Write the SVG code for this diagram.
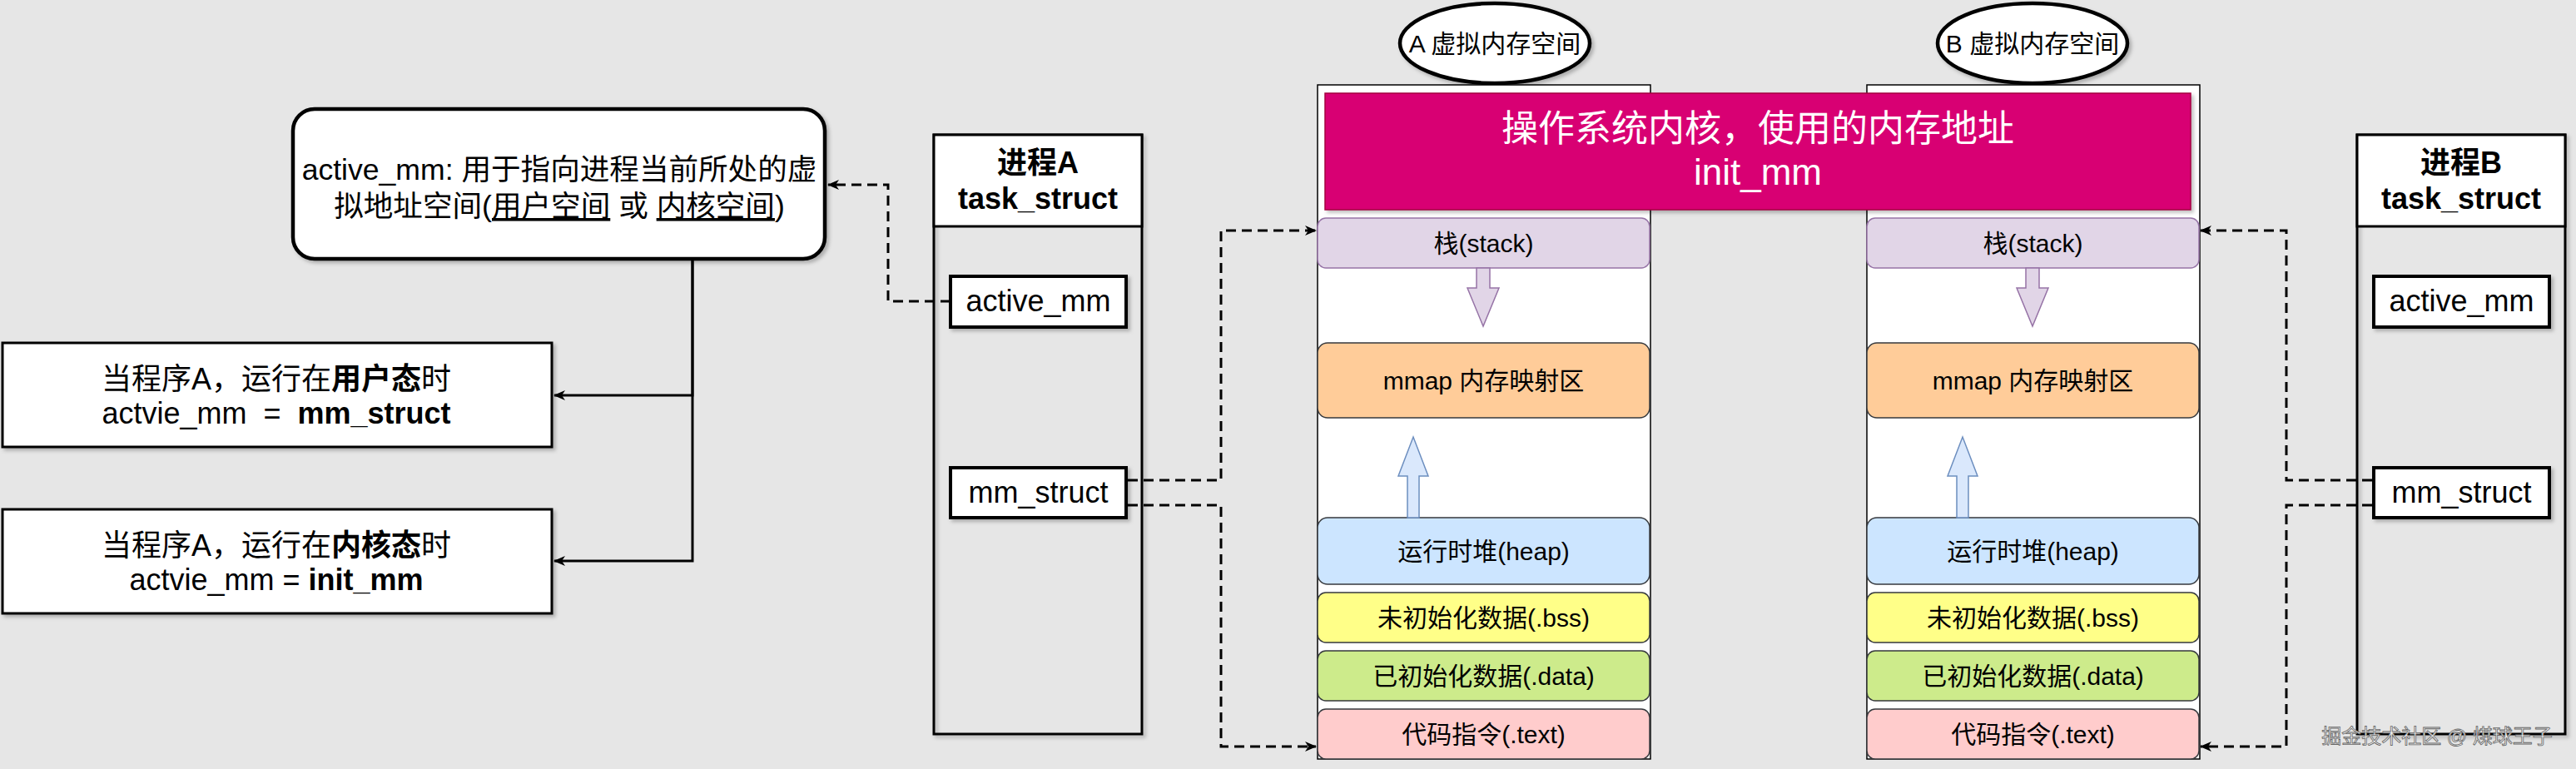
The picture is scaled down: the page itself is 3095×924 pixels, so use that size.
<svg xmlns="http://www.w3.org/2000/svg" width="3095" height="924" viewBox="0 0 3095 924">
<style>
text { font-family: "Liberation Sans", "Noto Sans CJK SC", sans-serif; fill: #000; }
.box { fill: #fff; stroke: #000; stroke-width: 3; }
.inner { fill: #fff; stroke: #000; stroke-width: 4; }
.t36 { font-size: 36px; text-anchor: middle; }
.t34 { font-size: 35.6px; text-anchor: middle; }
.t30 { font-size: 30px; text-anchor: middle; }
.b { font-weight: bold; }
.u { text-decoration: underline; }
.seg { stroke: #36393d; stroke-width: 1.5; }
.dash { fill: none; stroke: #000; stroke-width: 3; stroke-dasharray: 12 7; }
.solid { fill: none; stroke: #000; stroke-width: 3; }
.col { fill: #fff; stroke: #000; stroke-width: 1.5; }
.ell { fill: #fff; stroke: #000; stroke-width: 4.5; }
</style>
<defs>
<filter id="sh" x="-10%" y="-10%" width="130%" height="130%">
<feDropShadow dx="3" dy="3" stdDeviation="2" flood-color="#000" flood-opacity="0.25"/>
</filter>
<marker id="arr" markerUnits="userSpaceOnUse" viewBox="0 0 14 12" markerWidth="14" markerHeight="12" refX="13" refY="6" orient="auto">
<path d="M0,0 L14,6 L0,12 L4,6 Z" fill="#000"/>
</marker>
</defs>
<rect x="0" y="0" width="3095" height="924" fill="#e6e6e6"/>

<g id="note">
<rect x="352" y="131" width="639" height="180" rx="26" class="box" style="stroke-width:4.5" filter="url(#sh)"/>
<text class="t34" x="672" y="216">active_mm: 用于指向进程当前所处的虚</text>
<text class="t34" x="672" y="260">拟地址空间(<tspan class="u">用户空间</tspan> 或 <tspan class="u">内核空间</tspan>)</text>
</g>

<g id="user-mode">
<rect x="3" y="412" width="660" height="125" class="box" filter="url(#sh)"/>
<text class="t36" x="332" y="468">当程序A，运行在<tspan class="b">用户态</tspan>时</text>
<text class="t36" x="332" y="509" style="white-space:pre">actvie_mm  =  <tspan class="b">mm_struct</tspan></text>
</g>

<g id="kernel-mode">
<rect x="3" y="612" width="660" height="125" class="box" filter="url(#sh)"/>
<text class="t36" x="332" y="668">当程序A，运行在<tspan class="b">内核态</tspan>时</text>
<text class="t36" x="332" y="709">actvie_mm = <tspan class="b">init_mm</tspan></text>
</g>

<g id="procA">
<rect x="1122" y="162" width="250" height="720" fill="none" stroke="#000" stroke-width="3" filter="url(#sh)"/>
<rect x="1122" y="162" width="250" height="110" class="box"/>
<text class="t36 b" x="1247" y="208">进程A</text>
<text class="t36 b" x="1247" y="251">task_struct</text>
</g>
<g id="procA-active_mm">
<rect x="1142" y="332" width="211" height="61" class="inner" filter="url(#sh)"/>
<text class="t36" x="1247.5" y="374">active_mm</text>
</g>
<g id="procA-mm_struct">
<rect x="1142" y="562" width="211" height="60" class="inner" filter="url(#sh)"/>
<text class="t36" x="1247.5" y="604">mm_struct</text>
</g>

<g id="procB">
<rect x="2832" y="162" width="250" height="720" fill="none" stroke="#000" stroke-width="3" filter="url(#sh)"/>
<rect x="2832" y="162" width="250" height="110" class="box"/>
<text class="t36 b" x="2957" y="208">进程B</text>
<text class="t36 b" x="2957" y="251">task_struct</text>
</g>
<g id="procB-active_mm">
<rect x="2852" y="332" width="211" height="61" class="inner" filter="url(#sh)"/>
<text class="t36" x="2957.5" y="374">active_mm</text>
</g>
<g id="procB-mm_struct">
<rect x="2852" y="562" width="211" height="60" class="inner" filter="url(#sh)"/>
<text class="t36" x="2957.5" y="604">mm_struct</text>
</g>

<g id="spaceA">
<ellipse cx="1796" cy="52" rx="114" ry="48" class="ell" filter="url(#sh)"/>
<text class="t30" x="1796" y="63">A 虚拟内存空间</text>
<rect x="1583" y="102" width="400" height="810" class="col"/>
</g>
<g id="spaceB">
<ellipse cx="2442" cy="52" rx="114" ry="48" class="ell" filter="url(#sh)"/>
<text class="t30" x="2442" y="63">B 虚拟内存空间</text>
<rect x="2243" y="102" width="400" height="810" class="col"/>
</g>

<g id="kernel">
<rect x="1592" y="112" width="1040" height="140" fill="#d80073" stroke="#a50040" stroke-width="1.5" filter="url(#sh)"/>
<text x="2112" y="170" style="font-size:44px;text-anchor:middle;fill:#fff">操作系统内核，使用的内存地址</text>
<text x="2112" y="222" style="font-size:44px;text-anchor:middle;fill:#fff">init_mm</text>
</g>

<g id="A-stack">
<rect x="1583" y="262" width="399" height="60" rx="10" fill="#e1d5e7" stroke="#9673a6" stroke-width="1.5"/>
<text class="t30" x="1782.5" y="302.5">栈(stack)</text>
</g>
<g id="A-mmap">
<rect x="1583" y="412" width="399" height="90" rx="12" fill="#ffcc99" class="seg"/>
<text class="t30" x="1782.5" y="468">mmap 内存映射区</text>
</g>
<g id="A-heap">
<rect x="1583" y="622" width="399" height="80" rx="12" fill="#cce5ff" class="seg"/>
<text class="t30" x="1782.5" y="673">运行时堆(heap)</text>
</g>
<g id="A-bss">
<rect x="1583" y="712" width="399" height="60" rx="10" fill="#ffff88" class="seg"/>
<text class="t30" x="1782.5" y="753">未初始化数据(.bss)</text>
</g>
<g id="A-data">
<rect x="1583" y="782" width="399" height="60" rx="10" fill="#cdeb8b" class="seg"/>
<text class="t30" x="1782.5" y="823">已初始化数据(.data)</text>
</g>
<g id="A-text">
<rect x="1583" y="852" width="399" height="60" rx="10" fill="#ffcccc" class="seg"/>
<text class="t30" x="1782.5" y="893">代码指令(.text)</text>
</g>
<g id="A-grow">
<polygon points="1774,322 1790,322 1790,346 1801,346 1782,392 1763,346 1774,346" fill="#e1d5e7" stroke="#9673a6" stroke-width="1.5"/>
<polygon points="1691,622 1705,622 1705,572 1716,572 1698,525 1680,572 1691,572" fill="#dae8fc" stroke="#6c8ebf" stroke-width="1.5"/>
</g>

<g id="B-stack">
<rect x="2243" y="262" width="399" height="60" rx="10" fill="#e1d5e7" stroke="#9673a6" stroke-width="1.5"/>
<text class="t30" x="2442.5" y="302.5">栈(stack)</text>
</g>
<g id="B-mmap">
<rect x="2243" y="412" width="399" height="90" rx="12" fill="#ffcc99" class="seg"/>
<text class="t30" x="2442.5" y="468">mmap 内存映射区</text>
</g>
<g id="B-heap">
<rect x="2243" y="622" width="399" height="80" rx="12" fill="#cce5ff" class="seg"/>
<text class="t30" x="2442.5" y="673">运行时堆(heap)</text>
</g>
<g id="B-bss">
<rect x="2243" y="712" width="399" height="60" rx="10" fill="#ffff88" class="seg"/>
<text class="t30" x="2442.5" y="753">未初始化数据(.bss)</text>
</g>
<g id="B-data">
<rect x="2243" y="782" width="399" height="60" rx="10" fill="#cdeb8b" class="seg"/>
<text class="t30" x="2442.5" y="823">已初始化数据(.data)</text>
</g>
<g id="B-text">
<rect x="2243" y="852" width="399" height="60" rx="10" fill="#ffcccc" class="seg"/>
<text class="t30" x="2442.5" y="893">代码指令(.text)</text>
</g>
<g id="B-grow">
<polygon points="2434,322 2450,322 2450,346 2461,346 2442,392 2423,346 2434,346" fill="#e1d5e7" stroke="#9673a6" stroke-width="1.5"/>
<polygon points="2351,622 2365,622 2365,572 2376,572 2358,525 2340,572 2351,572" fill="#dae8fc" stroke="#6c8ebf" stroke-width="1.5"/>
</g>

<g id="connectors">
<path class="solid" d="M832,313 L832,475 L666,475" marker-end="url(#arr)"/>
<path class="solid" d="M832,313 L832,674 L666,674" marker-end="url(#arr)"/>
<path class="dash" d="M1142,362 L1067,362 L1067,222 L995,222" marker-end="url(#arr)"/>
<path class="dash" d="M1355,577 L1467,577 L1467,277 L1581,277" marker-end="url(#arr)"/>
<path class="dash" d="M1355,607 L1467,607 L1467,897 L1581,897" marker-end="url(#arr)"/>
<path class="dash" d="M2850,577 L2747,577 L2747,277 L2644,277" marker-end="url(#arr)"/>
<path class="dash" d="M2850,607 L2747,607 L2747,897 L2644,897" marker-end="url(#arr)"/>
</g>

<g id="watermark">
<text x="2928" y="893" style="font-size:24px;text-anchor:middle;fill:#f4f4f4;stroke:#666;stroke-width:0.8">掘金技术社区 @ 煤球王子</text>
</g>
</svg>
